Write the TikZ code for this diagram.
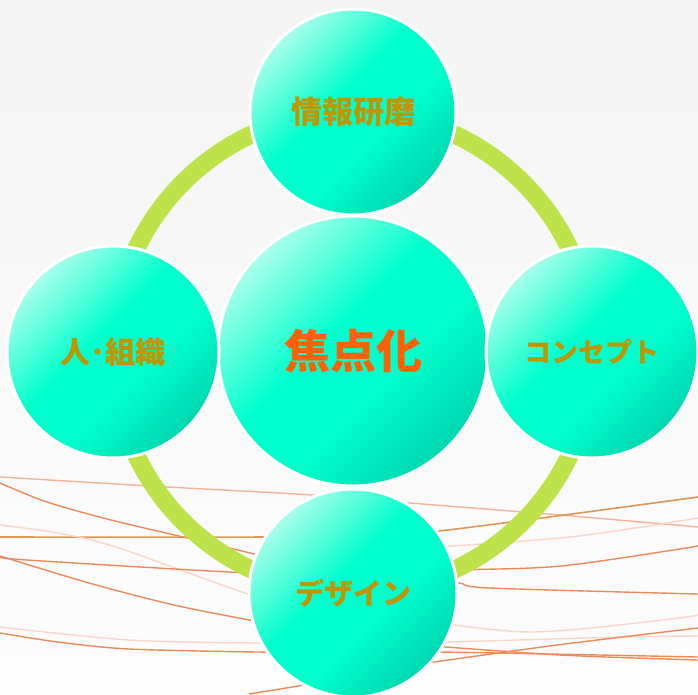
\documentclass[tikz,border=0pt]{standalone}
\usepackage{fontspec}
\newfontfamily\jp{Noto Sans CJK JP}
\definecolor{ringgreen}{RGB}{189,226,74}
\definecolor{cpale}{RGB}{195,255,242}
\definecolor{cmid}{RGB}{0,255,204}
\definecolor{cdark}{RGB}{0,208,172}
\definecolor{labgold}{RGB}{190,150,0}
\definecolor{laborange}{RGB}{255,96,0}
\definecolor{lnorange}{RGB}{238,138,90}
\definecolor{lnsalmon}{RGB}{244,178,150}
\definecolor{lngold}{RGB}{222,150,85}
\definecolor{lnpale}{RGB}{251,214,198}
\definecolor{bgtop}{RGB}{244,244,244}
\definecolor{bgbot}{RGB}{253,253,253}
\pgfdeclareverticalshading{bubbleshade}{100bp}{color(0bp)=(cdark); color(22bp)=(cdark); color(42bp)=(cmid); color(55bp)=(cmid); color(78bp)=(cpale); color(100bp)=(cpale)}
\tikzset{
  bubble/.style={circle, draw=white, line width=3pt, inner sep=0pt,
    shading=bubbleshade, shading angle=45, text=labgold},
  thread/.style={line width=1.4pt, lnorange},
  threadpale/.style={line width=1.4pt, lnpale},
  threadsalmon/.style={line width=1.4pt, lnsalmon},
  threadgold/.style={line width=1.6pt, lngold},
}
\begin{document}
\begin{tikzpicture}[x=1pt,y=-1pt]
\useasboundingbox (0,0) rectangle (698,694);
\shade[top color=bgtop, bottom color=bgbot] (0,0) rectangle (698,694);
% threads
\draw[threadsalmon] plot[smooth] coordinates {(0,477) (150,486) (312,495) (410,503) (560,515) (698,527)};
\draw[thread] plot[smooth] coordinates {(0,483) (47,502) (111,520) (196,540) (300,565)};
\draw[threadgold] plot[smooth] coordinates {(0,537) (263,537) (350,535) (439,531) (698,497)};
\draw[threadpale] plot[smooth] coordinates {(0,525) (58,533) (116,547) (245,593) (290,603)};
\draw[threadpale] plot[smooth] coordinates {(420,548) (570,537) (698,518)};
\draw[thread] plot[smooth] coordinates {(0,557) (27,560) (249,573) (350,574) (459,570) (561,566) (686,548) (698,545)};
\draw[thread] plot[smooth] coordinates {(0,556) (89,583) (174,605) (249,620) (290,628)};
\draw[thread] plot[smooth] coordinates {(420,580) (459,583) (490,588) (698,594)};
\draw[threadpale] plot[smooth] coordinates {(0,627) (129,640) (258,643) (350,643) (445,642) (623,637) (698,636)};
\draw[threadpale] plot[smooth] coordinates {(420,620) (534,632) (686,617) (698,612)};
\draw[thread] plot[smooth] coordinates {(0,633) (58,642) (129,649) (258,652) (350,652) (441,652) (698,657)};
\draw[thread] plot[smooth] coordinates {(420,664) (557,645) (698,628)};
\draw[thread] plot[smooth] coordinates {(420,645) (560,655) (698,660)};
\draw[thread] plot[smooth] coordinates {(249,694) (298,686) (340,678)};
% ring
\coordinate (c) at (353,352);
\draw[ringgreen, line width=18pt] (c) circle[radius=240];
% bubbles
\node[bubble, minimum size=270pt, text=laborange, font=\jp\bfseries\fontsize{46pt}{46pt}\selectfont] (core) at (353,351) {焦点化};
\node[bubble, minimum size=206pt, font=\jp\bfseries\fontsize{31pt}{31pt}\selectfont] (info) at (353,112) {情報研磨};
\node[bubble, minimum size=212pt, font=\jp\bfseries\fontsize{27pt}{27pt}\selectfont] (concept) at (592,352) {コンセプト};
\node[bubble, minimum size=212pt, font=\jp\bfseries\fontsize{30pt}{30pt}\selectfont] (people) at (113,352) {人･組織};
\node[bubble, minimum size=208pt, font=\jp\bfseries\fontsize{29pt}{29pt}\selectfont] (design) at (353,593) {デザイン};
\end{tikzpicture}
\end{document}
